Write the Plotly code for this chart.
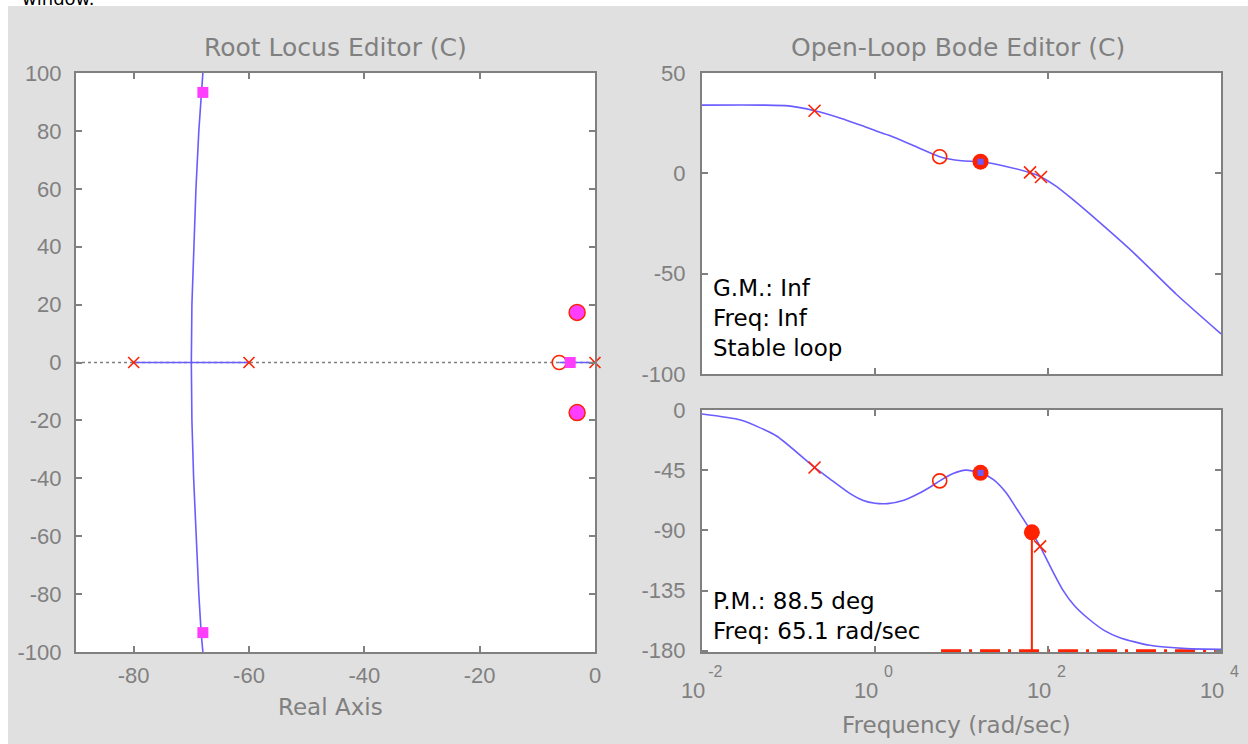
import plotly.graph_objects as go

W, H = 1248, 744

# ---------------- data ----------------
# Root locus (real, imag)
rl_axis_re = [-90, 0]
rl_axis_im = [0, 0]
rl_seg_re = [-80, -60]
rl_seg_im = [0, 0]
rl_branch_im = [-100, -93.3, -80, -60, -40, -20, 0, 20, 40, 60, 80, 93.3, 100]
rl_branch_re = [-68.0, -68.3, -68.7, -69.2, -69.6, -69.9, -70.0, -69.9, -69.6, -69.2, -68.7, -68.3, -68.0]
rl_near_re = [-6.2, 0]
rl_near_im = [0, 0]
ol_poles_re = [-80, -60, 0]
ol_poles_im = [0, 0, 0]
ol_zeros_re = [-6.2]
ol_zeros_im = [0]
cl_sq_re = [-68.0, -68.0, -4.3]
cl_sq_im = [93.3, -93.3, 0]
cl_cx_re = [-3.1, -3.1]
cl_cx_im = [17.3, -17.3]
rl_xticks = [-80, -60, -40, -20, 0]
rl_yticks = [-100, -80, -60, -40, -20, 0, 20, 40, 60, 80, 100]

# Bode magnitude
mag_w = [0.01, 0.05, 0.1, 0.2, 0.4, 0.7, 1.0, 1.5, 3.0, 5.6, 10, 16.6, 31, 65.1, 83, 120, 181, 300, 1000, 3000, 10000]
mag_db = [34.0, 34.0, 33.6, 31.2, 27.5, 23.8, 21.3, 18.7, 13.2, 8.3, 6.3, 5.8, 3.7, 0.0, -1.8, -6.0, -12.0, -20.0, -40.0, -60.0, -80.0]
mag_pole_w = [0.2, 62, 83]
mag_pole_db = [31.2, 0.5, -1.8]
mag_zero_w = [5.6]
mag_zero_db = [8.3]
mag_cz_w = [16.6]
mag_cz_db = [5.8]
mag_yticks = [-100, -50, 0, 50]

# Bode phase
ph_w = [0.01, 0.028, 0.072, 0.2, 0.3, 0.5, 0.72, 1.0, 1.4, 2.16, 3.2, 4.5, 5.6, 8.0, 11.2, 16.6, 23.4, 33,
        44.6, 65.1, 81, 110, 148, 200, 280, 450, 690, 1500, 4000, 10000]
ph_deg = [-3, -7.5, -19.3, -43, -51.5, -62, -67.5, -69.8, -70, -67.5, -62.5, -57, -53, -47.5, -45, -47, -52, -62,
          -75, -91.5, -102, -119, -134.5, -146, -155, -165, -170.5, -176, -178.5, -179]
ph_pole_w = [0.2, 81]
ph_pole_deg = [-43, -102]
ph_zero_w = [5.6]
ph_zero_deg = [-53]
ph_cz_w = [16.6]
ph_cz_deg = [-47]
pm_w = [65.1]
pm_deg = [-91.5]
pm_line_w = [65.1, 65.1]
pm_line_deg = [-91.5, -180]
ref180_w = [5.8, 10000]
ref180_deg = [-180, -180]
ph_yticks = [0, -45, -90, -135, -180]

bode_tickvals = [0.01, 1, 100, 10000]
bode_exps = ["-2", "0", "2", "4"]

# ---------------- styles ----------------
BLUE = "#6a5cff"
RED = "#ff2200"
MAG = "#ff3dff"
GRAY = "#808080"
BG = "#e0e0e0"


def py(p):
    return (H - p) / H


fig = go.Figure()


def xmark(size=12):
    return dict(symbol="x-thin-open", size=size, color=RED, line=dict(color=RED, width=1.6))


def omark(size=14):
    return dict(symbol="circle-open", size=size, color=RED, line=dict(color=RED, width=1.6))


# Root locus
fig.add_trace(go.Scatter(x=rl_axis_re, y=rl_axis_im, mode="lines",
                         line=dict(color=GRAY, width=1.5, dash="dot"), xaxis="x", yaxis="y"))
fig.add_trace(go.Scatter(x=rl_seg_re, y=rl_seg_im, mode="lines",
                         line=dict(color=BLUE, width=1.6), xaxis="x", yaxis="y"))
fig.add_trace(go.Scatter(x=rl_branch_re, y=rl_branch_im, mode="lines",
                         line=dict(color=BLUE, width=1.6), xaxis="x", yaxis="y"))
fig.add_trace(go.Scatter(x=rl_near_re, y=rl_near_im, mode="lines",
                         line=dict(color=BLUE, width=1.6), xaxis="x", yaxis="y"))
fig.add_trace(go.Scatter(x=ol_poles_re, y=ol_poles_im, mode="markers", cliponaxis=False,
                         marker=xmark(11), xaxis="x", yaxis="y"))
fig.add_trace(go.Scatter(x=ol_zeros_re, y=ol_zeros_im, mode="markers", cliponaxis=False,
                         marker=omark(14), xaxis="x", yaxis="y"))
fig.add_trace(go.Scatter(x=cl_sq_re, y=cl_sq_im, mode="markers", cliponaxis=False,
                         marker=dict(symbol="square", size=11, color=MAG, line=dict(width=0)),
                         xaxis="x", yaxis="y"))
fig.add_trace(go.Scatter(x=cl_cx_re, y=cl_cx_im, mode="markers", cliponaxis=False,
                         marker=dict(symbol="circle", size=16, color=MAG, line=dict(color=RED, width=1.5)),
                         xaxis="x", yaxis="y"))

# Bode magnitude
fig.add_trace(go.Scatter(x=mag_w, y=mag_db, mode="lines",
                         line=dict(color=BLUE, width=1.6, shape="spline", smoothing=0.6),
                         xaxis="x2", yaxis="y2"))
fig.add_trace(go.Scatter(x=mag_pole_w, y=mag_pole_db, mode="markers", cliponaxis=False,
                         marker=xmark(12), xaxis="x2", yaxis="y2"))
fig.add_trace(go.Scatter(x=mag_zero_w, y=mag_zero_db, mode="markers", cliponaxis=False,
                         marker=omark(14), xaxis="x2", yaxis="y2"))
fig.add_trace(go.Scatter(x=mag_cz_w, y=mag_cz_db, mode="markers", cliponaxis=False,
                         marker=dict(symbol="circle", size=16, color=RED, line=dict(width=0)),
                         xaxis="x2", yaxis="y2"))
fig.add_trace(go.Scatter(x=mag_cz_w, y=mag_cz_db, mode="markers", cliponaxis=False,
                         marker=dict(symbol="square", size=6, color=BLUE, line=dict(width=0)),
                         xaxis="x2", yaxis="y2"))

# Bode phase
fig.add_trace(go.Scatter(x=ref180_w, y=ref180_deg, mode="lines",
                         line=dict(color=RED, width=3, dash="20px,8px,3px,8px"),
                         xaxis="x3", yaxis="y3"))
fig.add_trace(go.Scatter(x=ph_w, y=ph_deg, mode="lines",
                         line=dict(color=BLUE, width=1.6, shape="spline", smoothing=0.6),
                         xaxis="x3", yaxis="y3"))
fig.add_trace(go.Scatter(x=pm_line_w, y=pm_line_deg, mode="lines",
                         line=dict(color=RED, width=2), xaxis="x3", yaxis="y3"))
fig.add_trace(go.Scatter(x=ph_pole_w, y=ph_pole_deg, mode="markers", cliponaxis=False,
                         marker=xmark(12), xaxis="x3", yaxis="y3"))
fig.add_trace(go.Scatter(x=ph_zero_w, y=ph_zero_deg, mode="markers", cliponaxis=False,
                         marker=omark(14), xaxis="x3", yaxis="y3"))
fig.add_trace(go.Scatter(x=ph_cz_w, y=ph_cz_deg, mode="markers", cliponaxis=False,
                         marker=dict(symbol="circle", size=16, color=RED, line=dict(width=0)),
                         xaxis="x3", yaxis="y3"))
fig.add_trace(go.Scatter(x=ph_cz_w, y=ph_cz_deg, mode="markers", cliponaxis=False,
                         marker=dict(symbol="square", size=6, color=BLUE, line=dict(width=0)),
                         xaxis="x3", yaxis="y3"))
fig.add_trace(go.Scatter(x=pm_w, y=pm_deg, mode="markers", cliponaxis=False,
                         marker=dict(symbol="circle", size=16, color=RED, line=dict(width=0)),
                         xaxis="x3", yaxis="y3"))

tickfont = dict(family="Liberation Sans", size=22, color=GRAY)
axis_common = dict(showline=True, linecolor=GRAY, linewidth=2, mirror="ticks", ticks="inside",
                   ticklen=6, tickwidth=2, tickcolor=GRAY, showgrid=False, zeroline=False,
                   tickfont=tickfont, automargin=False)

bode_ticktext = [
    "&nbsp;" * 6 + e + "<br><span style='font-size:22px'>10</span>" + "&nbsp;" * 4
    for e in bode_exps
]


def labels(vals):
    return [str(v) for v in vals]


fig.update_layout(
    width=W, height=H,
    margin=dict(l=0, r=0, t=0, b=0, pad=0, autoexpand=False),
    paper_bgcolor=BG, plot_bgcolor="white",
    showlegend=False,
    xaxis=dict(axis_common, domain=[76 / W, 595 / W], range=[-90, 0],
               tickvals=rl_xticks, ticktext=labels(rl_xticks), anchor="y", ticklabelstandoff=3),
    yaxis=dict(axis_common, domain=[py(652), py(73)], range=[-100, 100],
               tickvals=rl_yticks, ticktext=labels(rl_yticks), anchor="x", ticklabelstandoff=8),
    xaxis2=dict(axis_common, type="log", domain=[702 / W, 1221 / W], range=[-2, 4],
                tickvals=bode_tickvals, showticklabels=False, anchor="y2"),
    yaxis2=dict(axis_common, domain=[py(374), py(73)], range=[-100, 50],
                tickvals=mag_yticks, ticktext=labels(mag_yticks), anchor="x2", ticklabelstandoff=10),
    xaxis3=dict(axis_common, type="log", domain=[702 / W, 1221 / W], range=[-2, 4],
                tickvals=bode_tickvals, ticktext=bode_ticktext, anchor="y3",
                tickfont=dict(family="Liberation Sans", size=16, color=GRAY), ticklabelstandoff=4),
    yaxis3=dict(axis_common, domain=[py(652), py(410)], range=[-181, 0],
                tickvals=ph_yticks, ticktext=labels(ph_yticks), anchor="x3", ticklabelstandoff=10),
)

# white strips (window edge)
fig.add_shape(type="rect", xref="paper", yref="paper", x0=0, x1=1, y0=py(6), y1=1,
              fillcolor="white", line=dict(width=0), layer="above")
fig.add_shape(type="rect", xref="paper", yref="paper", x0=0, x1=8 / W, y0=0, y1=1,
              fillcolor="white", line=dict(width=0), layer="above")

title_font = dict(family="DejaVu Sans", size=25, color=GRAY)
label_font = dict(family="DejaVu Sans", size=23, color=GRAY)
text_font = dict(family="DejaVu Sans", size=23, color="black")

ann = [
    dict(text="window.", x=20 / W, y=py(11), xanchor="left", yanchor="bottom",
         font=dict(family="DejaVu Sans", size=18, color="black")),
    dict(text="Root Locus Editor (C)", x=335 / W, y=py(47), xanchor="center", yanchor="middle", font=title_font),
    dict(text="Open-Loop Bode Editor (C)", x=958 / W, y=py(47), xanchor="center", yanchor="middle", font=title_font),
    dict(text="Real Axis", x=330 / W, y=py(707), xanchor="center", yanchor="middle", font=label_font),
    dict(text="Frequency (rad/sec)", x=956 / W, y=py(725), xanchor="center", yanchor="middle", font=label_font),
    dict(text="G.M.: Inf", x=711 / W, y=py(288), xanchor="left", yanchor="middle", font=text_font),
    dict(text="Freq: Inf", x=711 / W, y=py(318), xanchor="left", yanchor="middle", font=text_font),
    dict(text="Stable loop", x=711 / W, y=py(348), xanchor="left", yanchor="middle", font=text_font),
    dict(text="P.M.: 88.5 deg", x=711 / W, y=py(601), xanchor="left", yanchor="middle", font=text_font),
    dict(text="Freq: 65.1 rad/sec", x=711 / W, y=py(631), xanchor="left", yanchor="middle", font=text_font),
]
for a in ann:
    fig.add_annotation(xref="paper", yref="paper", showarrow=False, **a)

fig.write_html("out.html", config={"displayModeBar": False},
               post_script="document.body.style.margin='0';document.body.style.overflow='hidden';")
